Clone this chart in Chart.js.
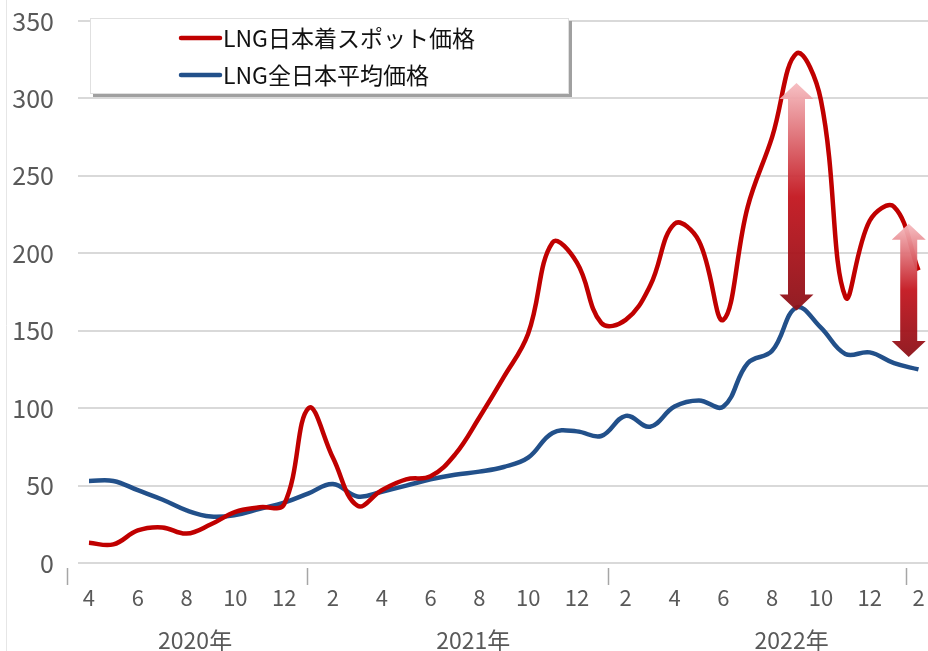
<!DOCTYPE html>
<html>
<head>
<meta charset="utf-8">
<title>LNG価格</title>
<script src="https://cdn.jsdelivr.net/npm/chart.js@4.4.0/dist/chart.umd.min.js"></script>
<style>
  html, body { margin: 0; padding: 0; background: #fff; }
  #wrap { position: relative; width: 928px; height: 651px; }
</style>
</head>
<body>
<div id="wrap"><canvas id="lngChart" width="928" height="651"></canvas></div>
<script>
// 2020/4 - 2023/2 monthly
const months = ["4","5","6","7","8","9","10","11","12",
  "1","2","3","4","5","6","7","8","9","10","11","12",
  "1","2","3","4","5","6","7","8","9","10","11","12",
  "1","2"];
const spotPrice = [13, 12, 21, 23, 19, 25, 33, 36, 38,
  100, 68, 37, 47, 54, 56, 70, 94, 120, 148, 207, 194,
  155, 157, 179, 219, 208, 157, 230, 275, 329, 299, 172, 221,
  230, 189];
const averagePrice = [53, 53, 47, 41, 34, 30, 31, 35, 39,
  45, 51, 43, 46, 50, 54, 57, 59, 62, 68, 84, 85,
  82, 95, 88, 101, 105, 101, 129, 137, 165, 152, 135, 136,
  129, 125];
const seriesNames = ["LNG日本着スポット価格", "LNG全日本平均価格"];
const seriesColors = ["#c00000", "#22508a"];
const yearNames = ["2020年", "2021年", "2022年"];

// where things go along the month axis (index units)
const yearLabelAt = [4.35, 15.75, 28.8];
const yearSeparatorAt = [-0.9, 8.93, 21.27, 33.5];
const spreadArrows = [
  { at: 29, low: 163, high: 310 },
  { at: 33.6, low: 133, high: 219 }
];

const FONT = '"Noto Sans CJK JP", "Noto Sans", sans-serif';
Chart.defaults.font.family = FONT;

function drawArrow(ctx, cx, yTop, yBot) {
  var shaft = 8.5, head = 17, headLen = 16;
  var grad = ctx.createLinearGradient(0, yTop, 0, yBot);
  grad.addColorStop(0, "#f6bcc0");
  grad.addColorStop(0.5, "#c3161f");
  grad.addColorStop(1, "#8c1118");
  ctx.save();
  ctx.beginPath();
  ctx.moveTo(cx, yTop);
  ctx.lineTo(cx + head, yTop + headLen);
  ctx.lineTo(cx + shaft, yTop + headLen);
  ctx.lineTo(cx + shaft, yBot - headLen);
  ctx.lineTo(cx + head, yBot - headLen);
  ctx.lineTo(cx, yBot);
  ctx.lineTo(cx - head, yBot - headLen);
  ctx.lineTo(cx - shaft, yBot - headLen);
  ctx.lineTo(cx - shaft, yTop + headLen);
  ctx.lineTo(cx - head, yTop + headLen);
  ctx.closePath();
  ctx.globalAlpha = 0.95;
  ctx.fillStyle = grad;
  ctx.fill();
  ctx.restore();
}

function drawLegend(ctx) {
  ctx.save();
  ctx.fillStyle = "#a0a0a0";
  ctx.fillRect(93, 21, 479, 76);
  ctx.fillStyle = "#ffffff";
  ctx.fillRect(90, 18, 479, 76);
  ctx.strokeStyle = "#e0e0e0";
  ctx.lineWidth = 1;
  ctx.strokeRect(90.5, 18.5, 478, 75);
  var rows = [38, 75];
  for (var i = 0; i < seriesNames.length; i++) {
    ctx.strokeStyle = seriesColors[i];
    ctx.lineWidth = 4.5;
    ctx.lineCap = "round";
    ctx.beginPath();
    ctx.moveTo(181, rows[i]);
    ctx.lineTo(220, rows[i]);
    ctx.stroke();
    ctx.fillStyle = "#111111";
    ctx.font = "23px " + FONT;
    ctx.textBaseline = "middle";
    ctx.textAlign = "left";
    ctx.fillText(seriesNames[i], 223, rows[i]);
  }
  ctx.restore();
}

const decorPlugin = {
  id: "decor",
  afterDatasetsDraw(chart) {
    var ctx = chart.ctx;
    var xs = chart.scales.x, ys = chart.scales.y;
    spreadArrows.forEach(function (a) {
      drawArrow(ctx, xs.getPixelForValue(a.at), ys.getPixelForValue(a.high), ys.getPixelForValue(a.low));
    });
  },
  afterDraw(chart) {
    var ctx = chart.ctx;
    var xs = chart.scales.x;
    var bottom = chart.chartArea.bottom;
    ctx.save();
    // faint frame line on the left
    ctx.strokeStyle = "#e6e6e6";
    ctx.lineWidth = 1;
    ctx.beginPath();
    ctx.moveTo(6.5, 0);
    ctx.lineTo(6.5, 651);
    ctx.stroke();
    // year separators
    ctx.strokeStyle = "#a6a6a6";
    ctx.lineWidth = 1.5;
    yearSeparatorAt.forEach(function (v) {
      var x = Math.round(xs.getPixelForValue(v)) + 0.5;
      ctx.beginPath();
      ctx.moveTo(x, bottom + 5);
      ctx.lineTo(x, bottom + 22);
      ctx.stroke();
    });
    ctx.fillStyle = "#595959";
    ctx.font = "23px " + FONT;
    ctx.textAlign = "center";
    ctx.textBaseline = "middle";
    yearNames.forEach(function (name, i) {
      ctx.fillText(name, xs.getPixelForValue(yearLabelAt[i]), bottom + 77);
    });
    ctx.restore();
    drawLegend(ctx);
  }
};

const ctx = document.getElementById("lngChart").getContext("2d");
const lngChart = new Chart(ctx, {
  type: "line",
  data: {
    datasets: [
      {
        label: seriesNames[0],
        data: spotPrice.map((v, i) => ({ x: i, y: v })),
        borderColor: seriesColors[0],
        borderWidth: 4.5,
        tension: 0.4,
        pointRadius: 0,
        fill: false
      },
      {
        label: seriesNames[1],
        data: averagePrice.map((v, i) => ({ x: i, y: v })),
        borderColor: seriesColors[1],
        borderWidth: 4.5,
        tension: 0.4,
        pointRadius: 0,
        fill: false
      }
    ]
  },
  options: {
    responsive: false,
    animation: false,
    layout: { padding: { left: 12, right: 0, top: 21, bottom: 42 } },
    plugins: {
      legend: { display: false },
      tooltip: { enabled: false }
    },
    scales: {
      x: {
        type: "linear",
        min: -0.45,
        max: 34.39,
        grid: { display: false },
        border: { display: false },
        afterBuildTicks: function (s) {
          s.ticks = months.map((m, i) => i).filter(i => i % 2 === 0).map(v => ({ value: v }));
        },
        afterFit: function (s) {
          s.height = 46;
          s.paddingLeft = 0;
          s.paddingRight = 0;
        },
        ticks: {
          autoSkip: false,
          maxRotation: 0,
          padding: 13,
          color: "#595959",
          font: { size: 22 },
          callback: function (v) { return months[v]; }
        }
      },
      y: {
        min: 0,
        max: 350,
        grid: { color: "#d9d9d9", lineWidth: 2, drawTicks: false },
        border: { display: false },
        afterFit: function (s) {
          s.width = 66;
          s.paddingTop = 0;
          s.paddingBottom = 0;
        },
        ticks: {
          stepSize: 50,
          padding: 24,
          color: "#595959",
          font: { size: 25 }
        }
      }
    }
  },
  plugins: [decorPlugin]
});
</script>
</body>
</html>
